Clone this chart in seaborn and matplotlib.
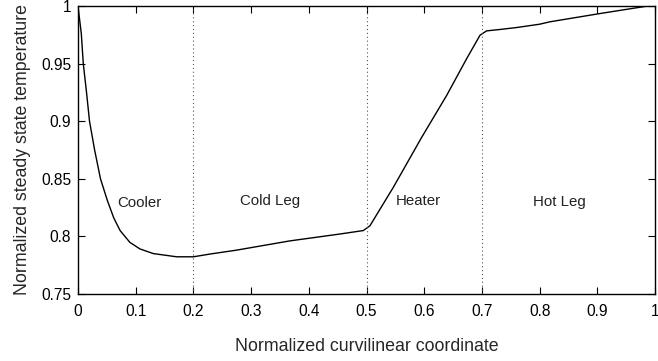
import matplotlib
matplotlib.use("Agg")
import matplotlib.pyplot as plt
import seaborn as sns
import pandas as pd

coord = [0.0, 0.0058, 0.0092, 0.0144, 0.020, 0.029, 0.039, 0.051, 0.062, 0.073,
         0.090, 0.1075, 0.1305, 0.171, 0.2,
         0.229, 0.275, 0.367, 0.454, 0.4945, 0.506, 0.5465, 0.5956, 0.639,
         0.6736, 0.6967, 0.708, 0.731, 0.76, 0.80, 0.818, 0.905, 0.986, 1.0]
temp = [1.0, 0.976, 0.95, 0.927, 0.90, 0.8746, 0.85, 0.831, 0.816, 0.805,
        0.7947, 0.789, 0.785, 0.7822, 0.7822,
        0.7846, 0.788, 0.796, 0.802, 0.805, 0.8092, 0.8426, 0.886, 0.9225,
        0.9544, 0.9747, 0.9785, 0.9797, 0.9814, 0.9843, 0.9864, 0.9936, 1.0, 1.0]
boundaries = [0.2, 0.5, 0.7]
region_names = ["Cooler", "Cold Leg", "Heater", "Hot Leg"]
region_x = [0.107, 0.333, 0.589, 0.835]
region_y = [0.829, 0.831, 0.831, 0.83]
xticks = [0, 0.1, 0.2, 0.3, 0.4, 0.5, 0.6, 0.7, 0.8, 0.9, 1]
xticklabels = ["0", "0.1", "0.2", "0.3", "0.4", "0.5", "0.6", "0.7", "0.8", "0.9", "1"]
yticks = [0.75, 0.8, 0.85, 0.9, 0.95, 1.0]
yticklabels = ["0.75", "0.8", "0.85", "0.9", "0.95", "1"]

sns.set_style("ticks")
plt.rcParams["font.family"] = ["Liberation Sans", "DejaVu Sans"]

df = pd.DataFrame({"x": coord, "y": temp})
fig = plt.figure(figsize=(6.58, 3.61), dpi=100)
ax = fig.add_axes([0.1185, 0.186, 0.877, 0.797])
sns.lineplot(data=df, x="x", y="y", ax=ax, color="black", linewidth=1.0)
for b in boundaries:
    ax.axvline(b, color="#555555", linestyle=(0, (1, 2.5)), linewidth=0.8)
for name, xx, yy in zip(region_names, region_x, region_y):
    ax.text(xx, yy, name, ha="center", va="center", fontsize=10.8, color="#222222")

ax.set_xlim(0, 1)
ax.set_ylim(0.75, 1)
ax.set_xticks(xticks)
ax.set_xticklabels(xticklabels)
ax.set_yticks(yticks)
ax.set_yticklabels(yticklabels)
ax.tick_params(direction="in", top=True, right=True, length=5, width=0.8,
               labelsize=11.2, colors="black")
ax.tick_params(axis="x", pad=7)
ax.tick_params(axis="y", pad=5)
for s in ax.spines.values():
    s.set_color("black")
    s.set_linewidth(1.0)
ax.set_xlabel("Normalized curvilinear coordinate", fontsize=12.8, labelpad=14)
ax.set_ylabel("Normalized steady state temperature", fontsize=12.8, labelpad=7)
fig.savefig("out.png", dpi=100)
